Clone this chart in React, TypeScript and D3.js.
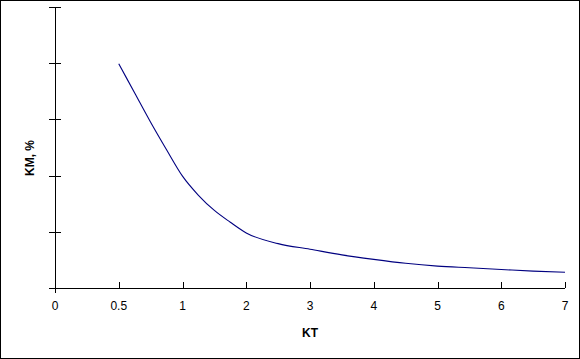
import { useEffect, useRef } from "react"
import * as d3 from "d3"

// x categories as printed on the axis (evenly spaced)
const xTicks = [0, 0.5, 1, 2, 3, 4, 5, 6, 7]
// y ticks (unlabelled in the reference)
const yTicks = [0, 10, 20, 30, 40, 50]

// curve samples
const ktValues = [0.5, 0.625, 0.75, 0.875, 1, 1.25, 1.5, 1.75, 2, 2.5, 3, 3.5, 4, 4.5, 5, 5.5, 6, 6.5, 7]
const kmValues = [39.9, 34.7, 29.5, 24.6, 19.9, 16.5, 13.8, 11.7, 9.8, 7.9, 6.9, 5.9, 5.1, 4.4, 3.9, 3.6, 3.3, 3.0, 2.8]

const App = () => {
  const svgRef = useRef<SVGSVGElement>(null)

  useEffect(() => {
    const svg = d3.select(svgRef.current)
    svg.selectAll("*").remove()

    const width = 580
    const height = 359
    const left = 55
    const right = 565
    const top = 7
    const bottom = 288

    svg.attr("width", width).attr("height", height)

    svg.append("rect")
      .attr("x", 0.5).attr("y", 0.5)
      .attr("width", width - 1).attr("height", height - 1)
      .attr("fill", "white").attr("stroke", "black")

    // category-style axis: ticks evenly spaced, values mapped piecewise between them
    const step = (right - left) / (xTicks.length - 1)
    const x = d3.scaleLinear()
      .domain(xTicks)
      .range(xTicks.map((_, i) => left + i * step))

    const y = d3.scaleLinear().domain([0, 50]).range([bottom, top])

    const font = "'Liberation Sans', Arial, sans-serif"

    // y axis
    svg.append("line")
      .attr("x1", left + 0.5).attr("x2", left + 0.5)
      .attr("y1", top).attr("y2", bottom + 5)
      .attr("stroke", "black")
    svg.selectAll(".ytick")
      .data(yTicks)
      .enter()
      .append("line")
      .attr("x1", left - 6).attr("x2", left + 6)
      .attr("y1", (d) => Math.round(y(d)) + 0.5)
      .attr("y2", (d) => Math.round(y(d)) + 0.5)
      .attr("stroke", "black")

    // x axis
    svg.append("line")
      .attr("x1", left - 6).attr("x2", right)
      .attr("y1", bottom + 0.5).attr("y2", bottom + 0.5)
      .attr("stroke", "black")
    svg.selectAll(".xtick")
      .data(xTicks)
      .enter()
      .append("line")
      .attr("x1", (d) => Math.round(x(d)) + 0.5)
      .attr("x2", (d) => Math.round(x(d)) + 0.5)
      .attr("y1", bottom - 6).attr("y2", bottom)
      .attr("stroke", "black")
    svg.selectAll(".xlabel")
      .data(xTicks)
      .enter()
      .append("text")
      .attr("x", (d) => x(d))
      .attr("y", 310)
      .attr("text-anchor", "middle")
      .attr("font-family", font)
      .attr("font-size", 12)
      .text((d) => String(d))

    svg.append("text")
      .attr("x", 310).attr("y", 337)
      .attr("text-anchor", "middle")
      .attr("font-family", font)
      .attr("font-size", 12)
      .attr("font-weight", "bold")
      .text("KT")

    svg.append("text")
      .attr("transform", "translate(34,158) rotate(-90)")
      .attr("text-anchor", "middle")
      .attr("font-family", font)
      .attr("font-size", 12)
      .attr("font-weight", "bold")
      .text("KM, %")

    const data = ktValues.map((k, i) => ({ k, v: kmValues[i] }))
    const line = d3.line<{ k: number; v: number }>()
      .x((d) => x(d.k))
      .y((d) => y(d.v))
      .curve(d3.curveMonotoneX)

    svg.append("path")
      .datum(data)
      .attr("d", line)
      .attr("fill", "none")
      .attr("stroke", "#000080")
      .attr("stroke-width", 1.1)
  }, [])

  return <svg ref={svgRef} style={{ position: "absolute", left: 0, top: 0 }}></svg>
}

export default App
